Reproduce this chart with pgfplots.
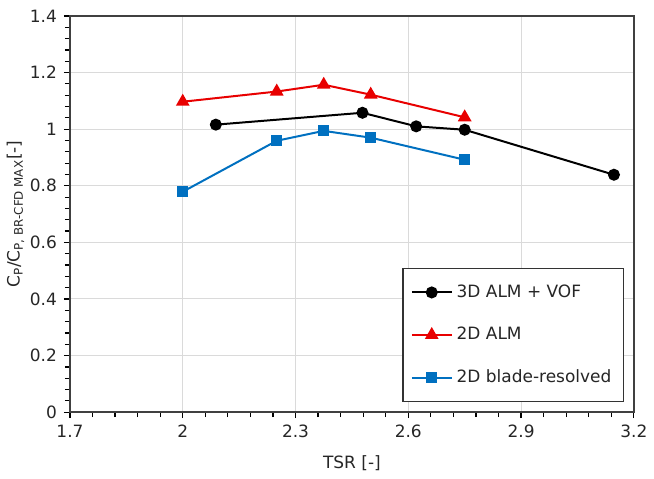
\documentclass[border=0pt]{standalone}
\usepackage{fontspec}
\setmainfont{DejaVu Sans}
\usepackage{pgfplots}
\pgfplotsset{compat=1.18}
\definecolor{alred}{RGB}{232,0,0}
\definecolor{brblue}{RGB}{0,112,192}
\definecolor{gridgray}{RGB}{218,218,218}

\begin{document}
\begin{tikzpicture}[x=0.5pt,y=0.5pt]
\begin{axis}[
  scale only axis,
  width=282.5pt, height=198.5pt,
  xmin=1.7, xmax=3.2, ymin=0, ymax=1.4,
  xtick={1.7,2,2.3,2.6,2.9,3.2},
  ytick={0,0.2,0.4,0.6,0.8,1,1.2,1.4},
  minor tick num=4,
  tick align=outside,
  xtick pos=left, ytick pos=left,
  major tick length=3pt, minor tick length=2.5pt,
  tick style={black, line width=0.6pt},
  grid=major, major grid style={gridgray, line width=0.5pt},
  axis line style={black!75, line width=0.8pt},
  font=\fontsize{8.5}{10}\selectfont,
  tick label style={font=\fontsize{8.5}{10}\selectfont, text=black!85},
  /pgf/number format/assume math mode=true,
  /pgf/number format/fixed,
  xlabel={TSR [-]},
  ylabel={C\textsubscript{P}/C\textsubscript{P, BR-CFD MAX}[-]},
  label style={font=\fontsize{8.5}{10}\selectfont, text=black!85},
  xlabel style={yshift=-2pt},
  ylabel style={yshift=-4pt},
  legend style={at={(0.589,0.025)}, anchor=south west,
    draw=black!80, line width=0.7pt, fill=white,
    font=\fontsize{8.5}{10}\selectfont,
    row sep=9.5pt, inner xsep=4pt, inner ysep=6pt, text=black!85,
    cells={anchor=west}},
  legend image code/.code={
    \draw[#1, mark repeat=2, mark phase=2] plot coordinates {(0pt,0pt) (10pt,0pt) (20pt,0pt)};
  },
  every axis plot/.append style={line width=1pt, mark size=2.5pt},
]
\addplot[black, mark=*, mark options={solid, fill=black}] coordinates {
  (2.088,1.016) (2.478,1.058) (2.621,1.010) (2.75,0.998) (3.147,0.839)
};
\addlegendentry{3D ALM + VOF}
\addplot[alred, mark=triangle*, mark size=3pt, mark options={solid, fill=alred}] coordinates {
  (2.0,1.097) (2.25,1.133) (2.375,1.157) (2.5,1.122) (2.75,1.042)
};
\addlegendentry{2D ALM}
\addplot[brblue, mark=square*, mark size=2.2pt, mark options={solid, fill=brblue}] coordinates {
  (2.0,0.779) (2.25,0.959) (2.375,0.994) (2.5,0.970) (2.75,0.892)
};
\addlegendentry{2D blade-resolved}
\end{axis}
\path (current axis.south west) ++(-70pt*0.5,-66pt*0.5) rectangle ++(327pt,239.5pt);
\end{tikzpicture}
\end{document}
